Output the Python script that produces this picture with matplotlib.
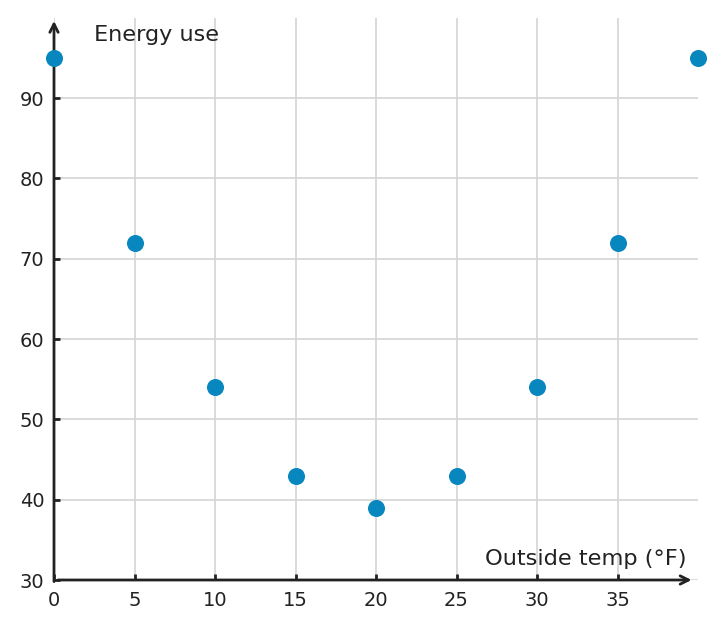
import matplotlib
matplotlib.use("Agg")
import matplotlib.pyplot as plt

plt.rcParams["font.family"] = ["DejaVu Sans"]

temps = [0, 5, 10, 15, 20, 25, 30, 35, 40]
energy = [95, 72, 54, 43, 39, 43, 54, 72, 95]
x_ticks = [0, 5, 10, 15, 20, 25, 30, 35]
y_ticks = [30, 40, 50, 60, 70, 80, 90]
x_label = "Outside temp (°F)"
y_label = "Energy use"

fig = plt.figure(figsize=(7.22, 6.29), dpi=100)
ax = fig.add_axes([54/722, 49/629, 644/722, 562.3/629])
ax.set_xlim(0, 40)
ax.set_ylim(30, 100)

for s in ax.spines.values():
    s.set_visible(False)

ax.set_xticks(x_ticks)
ax.set_yticks(y_ticks)
ax.grid(True, color="#d4d4d4", linewidth=1.2, zorder=0)
ax.tick_params(axis="both", direction="in", length=4, width=2, color="#222222",
               labelsize=14, labelcolor="#222222", pad=7)
ax.tick_params(axis="x", pad=8)

dark = "#222222"
ax.annotate("", xy=(0, 99.6), xytext=(0, 29.8),
            arrowprops=dict(arrowstyle="->,head_length=0.6,head_width=0.3", color=dark, lw=2,
                            shrinkA=0, shrinkB=0), annotation_clip=False, zorder=4)
ax.annotate("", xy=(39.6, 30), xytext=(0.25, 30),
            arrowprops=dict(arrowstyle="->,head_length=0.6,head_width=0.3", color=dark, lw=2,
                            shrinkA=0, shrinkB=0), annotation_clip=False, zorder=4)

ax.scatter(temps, energy, s=150, color="#0787bd", zorder=5, clip_on=False, linewidths=0)

ax.text(2.5, 97.9, y_label, fontsize=16.1, color=dark, ha="left", va="center")
ax.text(39.3, 32.6, x_label, fontsize=16.2, color=dark, ha="right", va="center")

fig.savefig("out.png", dpi=100)
